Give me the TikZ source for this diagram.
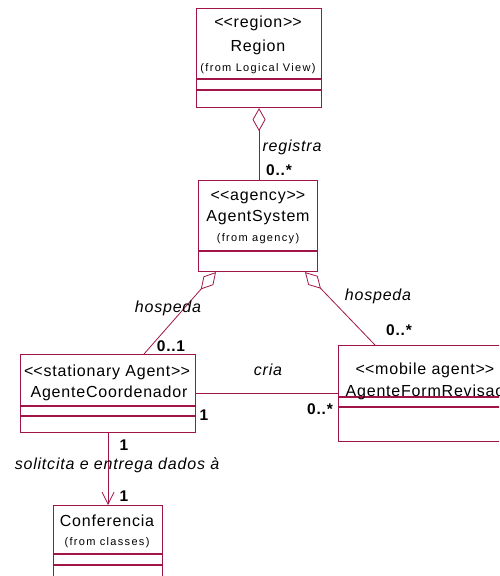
\documentclass[tikz,border=0pt]{standalone}
\usepackage{fontspec}
\setmainfont{Liberation Sans}[LetterSpace=5]
\newfontfamily\smallfam{Liberation Sans}[LetterSpace=12]
\usetikzlibrary{arrows.meta,calc}
\definecolor{uml}{RGB}{160,20,72}
\newcommand\ltlt{<\kern0pt<}
\newcommand\gtgt{>\kern0pt>}
\tikzset{
  umlbox/.style={draw=uml, line width=1.1pt, fill=white, rectangle, anchor=north west, inner sep=0pt},
  sepline/.style={draw=uml, line width=1.1pt},
  conn/.style={draw=uml, line width=0.8pt},
  lbl/.style={font=\fontsize{16}{18}\selectfont, inner sep=0pt},
  smalllbl/.style={font=\smallfam\fontsize{11}{13}\selectfont, inner sep=0pt},
  mult/.style={font=\bfseries\fontsize{15.5}{17}\selectfont, inner sep=0pt},
  role/.style={font=\itshape\fontsize{16}{18}\selectfont, inner sep=0pt},
  agg/.style={{Diamond[open,length=23pt,width=13pt]}-}
}
\begin{document}
\begin{tikzpicture}[x=1pt,y=-1pt]
\useasboundingbox (0,0) rectangle (499,576);
\clip (0,0) rectangle (499,576);
% boxes
\node[umlbox, minimum width=125pt, minimum height=99pt] (region) at (196,8) {};
\draw[sepline] ($(region.north west)+(0,71)$) -- ++(125,0);
\draw[sepline] ($(region.north west)+(0,82)$) -- ++(125,0);
\node[lbl] (regionst) at (258,23) {\ltlt region\gtgt};
\node[lbl] (regionnm) at (258,47) {Region};
\node[smalllbl] (regionfr) at (258,69) {(from Logical View)};

\node[umlbox, minimum width=119pt, minimum height=91pt] (agency) at (198,180) {};
\draw[sepline] ($(agency.north west)+(0,71)$) -- ++(119,0);
\node[lbl] (agencyst) at (258,197) {\ltlt agency\gtgt};
\node[lbl] (agencynm) at (258,218) {AgentSystem};
\node[smalllbl] (agencyfr) at (258,239) {(from agency)};

\node[umlbox, minimum width=175pt, minimum height=78pt] (coord) at (20,354) {};
\draw[sepline] ($(coord.north west)+(0,52)$) -- ++(175,0);
\draw[sepline] ($(coord.north west)+(0,62)$) -- ++(175,0);
\node[lbl] (coordst) at (107,372) {\ltlt stationary Agent\gtgt};
\node[lbl] (coordnm) at (109,393) {AgenteCoordenador};

\node[umlbox, minimum width=174pt, minimum height=96pt] (formrev) at (338,345) {};
\draw[sepline] ($(formrev.north west)+(0,52)$) -- ++(174,0);
\draw[sepline] ($(formrev.north west)+(0,62)$) -- ++(174,0);
\node[lbl] (formrevst) at (425,370) {\ltlt mobile agent\gtgt};
\node[lbl] (formrevnm) at (425,392) {AgenteFormRevisao};

\node[umlbox, minimum width=109pt, minimum height=85pt] (conf) at (53,505) {};
\draw[sepline] ($(conf.north west)+(0,49)$) -- ++(109,0);
\draw[sepline] ($(conf.north west)+(0,60)$) -- ++(109,0);
\node[lbl] (confnm) at (107,521) {Conferencia};
\node[smalllbl] (conffr) at (107,543) {(from classes)};

% connectors
\draw[conn, agg] (region.south) -- (region.south |- agency.north);
\draw[conn, agg] ($(agency.south west)+(18,0)$) -- ($(coord.north west)+(124,0)$);
\draw[conn, agg] ($(agency.south west)+(107,0)$) -- ($(formrev.north west)+(37,0)$);
\draw[conn] (coord.east) -- (formrev.west);
\draw[conn, -{Straight Barb[length=12pt,width=12pt]}] (coord.south) -- (conf.north);

% labels
\node[role] (lregistra) at (292,147) {registra};
\node[mult] (mregistra) at (279,170) {0..*};
\node[role] (lhospl) at (168,308) {hospeda};
\node[mult] (mhospl) at (171,346) {0..1};
\node[role] (lhospr) at (378,296) {hospeda};
\node[mult] (mhospr) at (399,330) {0..*};
\node[role] (lcria) at (268,370) {cria};
\node[mult] (mcria1) at (204,415) {1};
\node[mult] (mcria2) at (320,409) {0..*};
\node[mult] (msol1) at (124,445) {1};
\node[role] (lsol) at (117,465) {solitcita e entrega dados à};
\node[mult] (msol2) at (124,496) {1};
\end{tikzpicture}
\end{document}
